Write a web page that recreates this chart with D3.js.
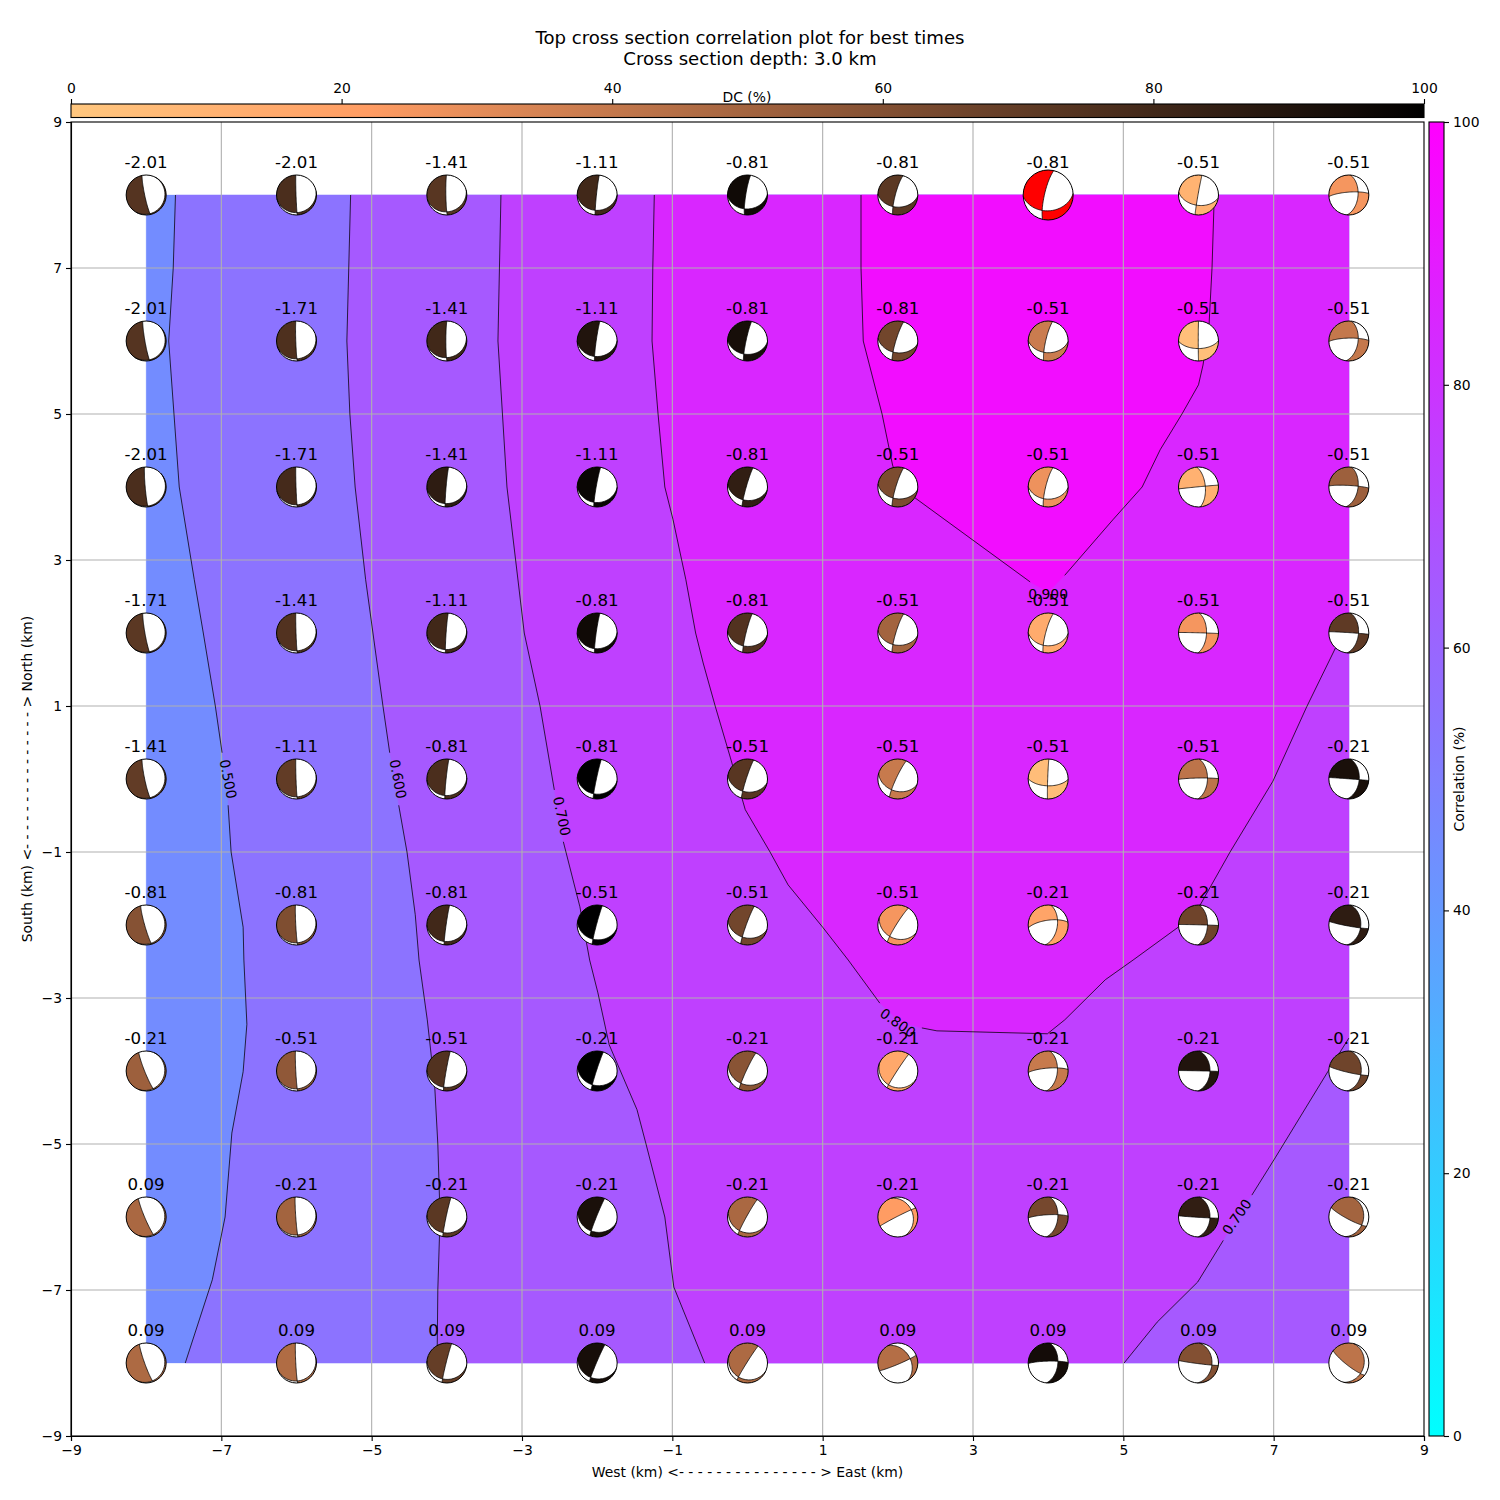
<!DOCTYPE html>
<html><head><meta charset="utf-8">
<script src="https://cdn.jsdelivr.net/npm/d3@7"></script>
<style>html,body{margin:0;padding:0;background:#fff}svg{display:block}text{font-family:"DejaVu Sans",sans-serif;fill:#000}</style>
</head><body><svg id="c" width="1500" height="1500"></svg>
<script>
const titleLines = ["Top cross section correlation plot for best times", "Cross section depth: 3.0 km"];
const xLabel = "West (km) <- - - - - - - - - - - - - - - > East (km)";
const yLabel = "South (km) <- - - - - - - - - - - - - - - > North (km)";
const gridEast = [-8,-6,-4,-2,0,2,4,6,8];
const gridNorth = [8,6,4,2,0,-2,-4,-6,-8];
const axisTicks = [-9,-7,-5,-3,-1,1,3,5,7,9];
const barTicks = [0,20,40,60,80,100];
const times = [
 "-2.01","-2.01","-1.41","-1.11","-0.81","-0.81","-0.81","-0.51","-0.51",
 "-2.01","-1.71","-1.41","-1.11","-0.81","-0.81","-0.51","-0.51","-0.51",
 "-2.01","-1.71","-1.41","-1.11","-0.81","-0.51","-0.51","-0.51","-0.51",
 "-1.71","-1.41","-1.11","-0.81","-0.81","-0.51","-0.51","-0.51","-0.51",
 "-1.41","-1.11","-0.81","-0.81","-0.51","-0.51","-0.51","-0.51","-0.21",
 "-0.81","-0.81","-0.81","-0.51","-0.51","-0.51","-0.21","-0.21","-0.21",
 "-0.21","-0.51","-0.51","-0.21","-0.21","-0.21","-0.21","-0.21","-0.21",
 "0.09","-0.21","-0.21","-0.21","-0.21","-0.21","-0.21","-0.21","-0.21",
 "0.09","0.09","0.09","0.09","0.09","0.09","0.09","0.09","0.09"];
const dc = [
 74,77,73,80,95,72,40,10,25,
 74,76,80,90,93,65,38,4,40,
 77,79,86,97,85,62,27,11,52,
 72,75,80,95,75,50,14,25,71,
 70,70,77,100,73,39,5,42,92,
 59,61,80,100,65,25,18,66,86,
 52,56,75,100,58,16,39,90,66,
 48,50,72,92,48,22,64,85,50,
 47,46,69,93,47,45,94,60,42];
const strike = [
 168,178,179,186,189,195,193,190,5,
 170,178,180,188,192,197,193,180,8,
 175,178,185,190,196,197,194,355,8,
 170,178,184,188,194,197,195,2,5,
 168,178,186,192,198,205,182,2,5,
 164,177,188,195,200,212,8,2,5,
 158,177,190,198,205,213,5,2,5,
 157,176,192,202,209,243,5,2,10,
 160,177,194,203,212,67,5,3,15];
const dip = [
 84,88,86,87,83,80,78,88,52,
 85,87,86,86,84,82,80,89,52,
 86,88,87,86,85,82,80,62,52,
 85,88,87,86,84,82,80,57,50,
 84,88,87,87,85,83,88,53,47,
 84,87,87,87,85,84,52,53,40,
 84,87,87,87,85,87,52,42,38,
 84,87,87,87,86,87,50,42,27,
 84,87,87,87,87,85,50,33,25];
const rake = [
 -95,-103,-107,-114,-120,-128,-125,-137,-165,
 -95,-102,-108,-113,-123,-130,-130,-149,-165,
 -95,-102,-108,-113,-123,-130,-128,-179,-172,
 -95,-102,-108,-112,-123,-128,-125,-179,-178,
 -95,-102,-108,-115,-125,-128,-152,-175,-179,
 -96,-102,-108,-117,-125,-121,-155,-179,173,
 -96,-102,-109,-118,-121,-108,-165,-179,170,
 -96,-101,-111,-115,-112,-65,-168,178,160,
 -96,-101,-109,-112,-108,55,-170,175,155];
const bestCell = 6;
const contour500 = [[-7.61,8],[-7.64,7],[-7.70,6],[-7.63,5],[-7.56,4],[-7.36,2.73],[-7.24,2],[-7.08,1],[-6.99,.36],[-6.91,0,0],[-6.91,-.36],[-6.87,-1],[-6.71,-2.03],[-6.70,-2.48],[-6.66,-3.36],[-6.71,-4.01],[-6.86,-4.85],[-6.95,-6],[-7.12,-6.86],[-7.48,-8]];
const contour600 = [[-5.28,8],[-5.33,6],[-5.29,5],[-5.22,4],[-5.08,2.73],[-4.85,1],[-4.76,.36],[-4.69,0,0],[-4.64,-.36],[-4.53,-1],[-4.42,-1.86],[-4.37,-2.48],[-4.26,-3.3],[-4.16,-4.23],[-4.12,-5],[-4.09,-6],[-4.12,-7],[-4.13,-8]];
const contour700West = [[-3.28,8],[-3.30,7],[-3.32,6],[-3.20,4],[-2.97,2],[-2.76,1],[-2.57,-.15],[-2.51,-.51,0],[-2.45,-.86],[-2.23,-1.75],[-2.10,-2.48],[-1.99,-2.93],[-1.84,-3.64],[-1.47,-4.53],[-1.35,-5],[-1.10,-6],[-.98,-6.96],[-.57,-8]];
const contour700East = [[5.01,-8],[5.45,-7.44],[5.99,-6.89],[6.33,-6.32],[6.51,-6,0],[6.71,-5.70],[7.02,-5.19],[7.72,-4.01],[8,-3.55]];
const contour800 = [[-1.24,8],[-1.26,7],[-1.27,6],[-1.19,5],[-1.10,4],[-.99,3.55],[-.82,2.73],[-.69,2],[-.59,1.59],[-.43,1],[-.23,.30],[-.03,-.42],[.30,-1],[.54,-1.45],[1.0,-2.03],[1.34,-2.48],[1.76,-3.07],[2.03,-3.33,0],[2.32,-3.41],[2.52,-3.45],[3.99,-3.49],[4.22,-3.30],[4.76,-2.75],[5.13,-2.48],[5.73,-2.03],[6.02,-1.73],[6.42,-1],[6.99,-.03],[7.44,.99],[7.82,1.79],[8,2.18]];
const contour900 = [[1.51,8],[1.51,7],[1.54,6],[1.79,5],[1.93,4.30],[2.03,4],[2.23,3.85],[3.76,2.70],[4,2.56,0],[4.22,2.79],[4.86,3.55],[5.25,4],[5.49,4.51],[5.78,5],[6.0,5.40],[6.06,5.67],[6.14,6.22],[6.18,7],[6.21,8]];
const contourText = ["0.500","0.600","0.700","0.800","0.900","0.700"];
const contourTextEast = [-6.91,-4.65,-2.47,2.0,4.0,6.51];
const contourTextNorth = [0,0,-.51,-3.34,2.53,-6];
const contourTextAngle = [79,79,78,35,0,-55];

const svg = d3.select("#c");
const L=71,R=1424,T=122,B=1436;
const x = d3.scaleLinear().domain([-9,9]).range([L,R]);
const y = d3.scaleLinear().domain([-9,9]).range([B,T]);
const cool = d3.scaleLinear().domain([0,100]).range(["#00ffff","#ff00ff"]);
const copper = d3.scaleLinear().domain([0,21.88,100]).range(["#ffc77f","#ff9c63","#000000"]);
const defs = svg.append("defs");
function gradient(id,scale,x2,y2){
  const g=defs.append("linearGradient").attr("id",id).attr("x1",0).attr("y1",y2?1:0).attr("x2",x2).attr("y2",0);
  d3.range(0,101,2).forEach(v=>g.append("stop").attr("offset",v+"%").attr("stop-color",scale(v)));
}
gradient("gCool",cool,0,1);
gradient("gCopper",copper,1,0);

// filled bands
const area = d3.line().x(d=>x(d[0])).y(d=>y(d[1]));
const bands = [
 {v:45,pts:[[-8,8],[-8,-8],[8,-8],[8,8]]},
 {v:55,pts:[...contour500,[8,-8],[8,8]]},
 {v:65,pts:[...contour600,[8,-8],[8,8]]},
 {v:75,pts:[...contour700West,...contour700East,[8,8]]},
 {v:85,pts:[...contour800,[8,8]]},
 {v:95,pts:contour900}
];
svg.append("g").selectAll("path").data(bands).join("path")
  .attr("d",d=>area(d.pts)+"Z").attr("fill",d=>cool(d.v)).attr("stroke",d=>cool(d.v)).attr("stroke-width",0.3);

// grid
const grid = svg.append("g").attr("stroke","#b0b0b0").attr("stroke-width",1.11);
axisTicks.slice(1,-1).forEach(t=>{
  grid.append("line").attr("x1",x(t)).attr("x2",x(t)).attr("y1",T).attr("y2",B);
  grid.append("line").attr("y1",y(t)).attr("y2",y(t)).attr("x1",L).attr("x2",R);
});

// contour lines
const line = d3.line().defined(d=>d.length===2).x(d=>x(d[0])).y(d=>y(d[1]));
svg.append("g").selectAll("path").data([contour500,contour600,contour700West,contour700East,contour800,contour900]).join("path")
  .attr("d",line).attr("fill","none").attr("stroke","#000").attr("stroke-width",0.75);
svg.append("g").selectAll("text").data(contourText).join("text")
  .attr("transform",(d,i)=>`translate(${x(contourTextEast[i])},${y(contourTextNorth[i])}) rotate(${contourTextAngle[i]})`)
  .attr("text-anchor","middle").attr("dy","0.35em").attr("font-size",13.9).text(d=>d);

// cells
const rad=Math.PI/180, deg=180/Math.PI;
const cross=(a,b)=>[a[1]*b[2]-a[2]*b[1],a[2]*b[0]-a[0]*b[2],a[0]*b[1]-a[1]*b[0]];
const geo=v=>[-Math.atan2(v[1],v[0])*deg,Math.asin(Math.max(-1,Math.min(1,v[2])))*deg];
const comb=(a,p,b,q)=>[a[0]*p+b[0]*q,a[1]*p+b[1]*q,a[2]*p+b[2]*q];
function mechanism(st,di,ra){
  const f=st*rad,d=di*rad,l=ra*rad;
  const n=[-Math.sin(d)*Math.sin(f),Math.sin(d)*Math.cos(f),-Math.cos(d)];
  const s=[Math.cos(l)*Math.cos(f)+Math.cos(d)*Math.sin(l)*Math.sin(f),
           Math.cos(l)*Math.sin(f)-Math.cos(d)*Math.sin(l)*Math.cos(f),
           -Math.sin(d)*Math.sin(l)];
  return {n,s,b:cross(n,s)};
}
function lune(m,sign){
  const ring=[], N=36;
  for(let i=0;i<N;i++){const t=Math.PI*i/N; ring.push(geo(comb(m.b,sign*Math.cos(t),m.s,sign*Math.sin(t))));}
  for(let i=0;i<N;i++){const t=Math.PI*i/N; ring.push(geo(comb(m.b,-sign*Math.cos(t),m.n,sign*Math.sin(t))));}
  ring.push(ring[0]);
  const poly={type:"Polygon",coordinates:[ring]};
  if(d3.geoArea(poly)>2*Math.PI) ring.reverse();
  return poly;
}
function circle(u,v){
  const c=[];
  for(let i=0;i<=72;i++){const t=2*Math.PI*i/72; c.push(geo(comb(u,Math.cos(t),v,Math.sin(t))));}
  return {type:"LineString",coordinates:c};
}
const cells=[];
gridNorth.forEach((ny,r)=>gridEast.forEach((ex,c)=>cells.push({ex,ny,i:r*9+c})));
const layer=svg.append("g");
layer.selectAll("text").data(cells).join("text")
  .attr("x",d=>x(d.ex)).attr("y",d=>y(d.ny)-33).attr("dy","0.35em")
  .attr("text-anchor","middle").attr("font-size",16.67).text(d=>times[d.i]);
cells.forEach(d=>{
  const radius=d.i===bestCell?25:20, cx=x(d.ex), cy=y(d.ny);
  const proj=d3.geoAzimuthalEqualArea().rotate([180,-90]).clipAngle(90).precision(.2).scale(radius/Math.SQRT2).translate([cx,cy]);
  const path=d3.geoPath(proj);
  const m=mechanism(strike[d.i],dip[d.i],rake[d.i]);
  const col=d.i===bestCell?"#ff0000":copper(dc[d.i]);
  const g=layer.append("g");
  g.append("circle").attr("cx",cx).attr("cy",cy).attr("r",radius).attr("fill","#fff");
  [1,-1].forEach(sg=>g.append("path").attr("d",path(lune(m,sg))).attr("fill",col));
  g.append("path").attr("d",path(circle(m.b,m.s))).attr("fill","none").attr("stroke","#000").attr("stroke-width",.75);
  g.append("path").attr("d",path(circle(m.b,m.n))).attr("fill","none").attr("stroke","#000").attr("stroke-width",.75);
  g.append("circle").attr("cx",cx).attr("cy",cy).attr("r",radius).attr("fill","none").attr("stroke","#000").attr("stroke-width",1);
});

// axes
function styleAxis(g){g.selectAll("text").attr("font-size",13.9).attr("font-family",'"DejaVu Sans",sans-serif');
  g.selectAll("line").attr("stroke","#000").attr("stroke-width",1.11);g.select(".domain").attr("stroke-width",1.11);}
svg.append("g").attr("transform",`translate(0,${B})`).call(d3.axisBottom(x).tickValues(axisTicks).tickSize(5).tickPadding(4).tickFormat(d3.format("d"))).call(styleAxis);
svg.append("g").attr("transform",`translate(${L},0)`).call(d3.axisLeft(y).tickValues(axisTicks).tickSize(5).tickPadding(4).tickFormat(d3.format("d"))).call(styleAxis);
svg.append("rect").attr("x",L).attr("y",T).attr("width",R-L).attr("height",B-T).attr("fill","none").attr("stroke","#000").attr("stroke-width",1.11);
svg.append("text").attr("x",(L+R)/2).attr("y",1472).attr("dy","0.35em").attr("text-anchor","middle").attr("font-size",13.9).text(xLabel);
svg.append("text").attr("transform",`translate(27,${(T+B)/2}) rotate(-90)`).attr("dy","0.35em").attr("text-anchor","middle").attr("font-size",13.9).text(yLabel);

// title
svg.selectAll("text.title").data(titleLines).join("text").attr("class","title")
  .attr("x",750).attr("y",(d,i)=>38+i*21).attr("dy","0.35em").attr("text-anchor","middle").attr("font-size",18.1).text(d=>d);

// DC colour bar
const dcX=d3.scaleLinear().domain([0,100]).range([L,R]);
svg.append("rect").attr("x",L).attr("y",104).attr("width",R-L).attr("height",13.5).attr("fill","url(#gCopper)").attr("stroke","#000").attr("stroke-width",1.11);
svg.append("g").attr("transform","translate(0,104)").call(d3.axisTop(dcX).tickValues(barTicks).tickSize(5).tickPadding(6)).call(styleAxis).select(".domain").remove();
svg.append("text").attr("x",747).attr("y",97).attr("dy","0.35em").attr("text-anchor","middle").attr("font-size",13.9).text("DC (%)");

// correlation colour bar
const corY=d3.scaleLinear().domain([0,100]).range([B,T]);
svg.append("rect").attr("x",1429).attr("y",T).attr("width",15).attr("height",B-T).attr("fill","url(#gCool)").attr("stroke","#000").attr("stroke-width",1.11);
svg.append("g").attr("transform","translate(1444,0)").call(d3.axisRight(corY).tickValues(barTicks).tickSize(5).tickPadding(4)).call(styleAxis).select(".domain").remove();
svg.append("text").attr("transform",`translate(1459,${(T+B)/2}) rotate(-90)`).attr("dy","0.35em").attr("text-anchor","middle").attr("font-size",13.9).text("Correlation (%)");
</script></body></html>
